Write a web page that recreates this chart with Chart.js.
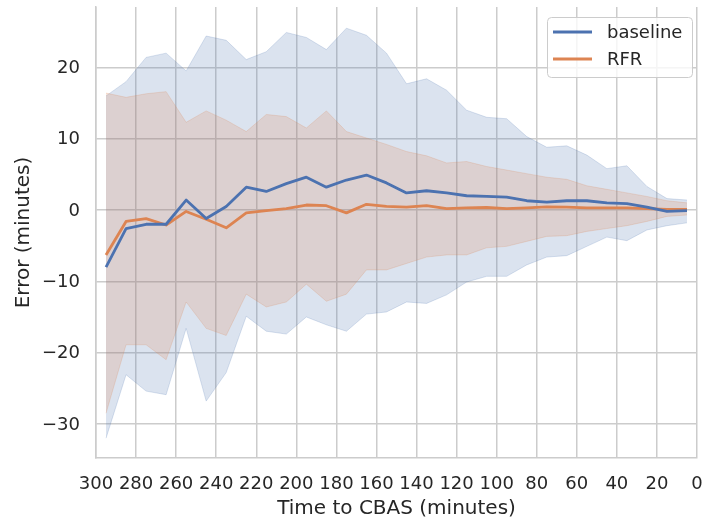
<!DOCTYPE html>
<html>
<head>
<meta charset="utf-8">
<script src="https://cdn.jsdelivr.net/npm/chart.js@4/dist/chart.umd.min.js"></script>
<style>
  html, body { margin: 0; padding: 0; background: #ffffff; }
  #chart { display: block; }
</style>
</head>
<body>
<canvas id="chart" width="705" height="520"></canvas>
<script>
// Minutes before CBAS at which each error sample was aggregated
const times = [295, 285, 275, 265, 255, 245, 235, 225, 215, 205,
               195, 185, 175, 165, 155, 145, 135, 125, 115, 105,
               95, 85, 75, 65, 55, 45, 35, 25, 15, 5];

// Baseline model: mean error and the spread band around it
const baselineMean = [-8.0, -2.6, -2.0, -2.0, 1.4, -1.2, 0.5, 3.2, 2.6, 3.7,
                      4.6, 3.2, 4.2, 4.9, 3.8, 2.4, 2.7, 2.4, 2.0, 1.9,
                      1.8, 1.3, 1.1, 1.3, 1.3, 1.0, 0.9, 0.4, -0.2, -0.1];
const baselineUpper = [16.0, 18.0, 21.4, 22.0, 19.5, 24.4, 23.8, 21.1, 22.2, 24.9,
                       24.2, 22.5, 25.5, 24.5, 22.0, 17.7, 18.4, 16.8, 14.0, 13.0,
                       12.8, 10.3, 8.8, 9.0, 7.7, 5.8, 6.2, 3.3, 1.6, 1.4];
const baselineLower = [-32.0, -23.1, -25.4, -25.9, -16.6, -26.8, -22.8, -14.9, -17.0, -17.4,
                       -15.0, -16.1, -17.0, -14.6, -14.3, -12.9, -13.1, -11.9, -10.1, -9.3,
                       -9.3, -7.7, -6.6, -6.4, -5.1, -3.8, -4.3, -2.8, -2.2, -1.8];

// Random forest regressor: mean error and spread band
const rfrMean = [-6.3, -1.6, -1.2, -2.1, -0.2, -1.3, -2.5, -0.4, -0.1, 0.2,
                 0.7, 0.6, -0.4, 0.8, 0.5, 0.4, 0.6, 0.2, 0.3, 0.35,
                 0.2, 0.3, 0.45, 0.4, 0.3, 0.3, 0.3, 0.2, 0.1, 0.1];
const rfrUpper = [16.4, 15.8, 16.3, 16.6, 12.3, 13.9, 12.6, 11.0, 13.4, 13.1,
                  11.5, 13.9, 11.0, 10.1, 9.2, 8.2, 7.6, 6.6, 6.8, 6.1,
                  5.6, 5.1, 4.6, 4.3, 3.4, 2.9, 2.4, 1.9, 1.3, 1.0];
const rfrLower = [-28.5, -18.9, -18.9, -21.0, -12.9, -16.6, -17.6, -11.8, -13.6, -12.9,
                  -10.4, -12.8, -11.8, -8.4, -8.4, -7.5, -6.6, -6.3, -6.3, -5.3,
                  -5.1, -4.4, -3.7, -3.6, -3.0, -2.6, -2.2, -1.6, -0.9, -0.7];

// Axis tick values
const xTicks = [300, 280, 260, 240, 220, 200, 180, 160, 140, 120, 100, 80, 60, 40, 20, 0];
const yTicks = [-30, -20, -10, 0, 10, 20];

const BLUE = '#4c72b0';
const ORANGE = '#dd8452';
const BLUE_BAND = 'rgba(76, 114, 176, 0.2)';
const ORANGE_BAND = 'rgba(221, 132, 82, 0.2)';
const TEXT = '#262626';
const GRID = '#cccccc';
const FONT = 'DejaVu Sans';

const pts = arr => arr.map((v, i) => ({ x: times[i], y: v }));

// Legend drawn as a framed box in the upper right of the plot area
const boxedLegend = {
  id: 'boxedLegend',
  afterDraw(chart) {
    const { ctx, chartArea } = chart;
    const items = chart.data.datasets.filter(d => d.inLegend);
    const w = 145, h = 60;
    const x0 = chartArea.right - 5 - w;
    const y0 = chartArea.top + 10;
    ctx.save();
    ctx.beginPath();
    ctx.roundRect(x0 + 0.5, y0 + 0.5, w, h, 4);
    ctx.fillStyle = 'rgba(255,255,255,0.8)';
    ctx.fill();
    ctx.strokeStyle = GRID;
    ctx.lineWidth = 1;
    ctx.stroke();
    ctx.font = '18px "' + FONT + '"';
    ctx.textBaseline = 'middle';
    ctx.textAlign = 'left';
    items.forEach((d, i) => {
      const y = y0 + 15 + i * 27;
      ctx.beginPath();
      ctx.moveTo(x0 + 6, y);
      ctx.lineTo(x0 + 45, y);
      ctx.strokeStyle = d.borderColor;
      ctx.lineWidth = d.borderWidth;
      ctx.stroke();
      ctx.fillStyle = TEXT;
      ctx.fillText(d.label, x0 + 60, y + 1);
    });
    ctx.restore();
  }
};

new Chart(document.getElementById('chart'), {
  type: 'line',
  data: {
    datasets: [
      { label: 'baseline', inLegend: true, data: pts(baselineMean), borderColor: BLUE, borderWidth: 2.8,
        fill: false, order: 0 },
      { label: 'RFR', inLegend: true, data: pts(rfrMean), borderColor: ORANGE, borderWidth: 2.8,
        fill: false, order: 0 },
      { label: 'RFR upper', data: pts(rfrUpper), borderColor: ORANGE_BAND, borderWidth: 1,
        backgroundColor: ORANGE_BAND, fill: '+1', order: 1 },
      { label: 'RFR lower', data: pts(rfrLower), borderColor: ORANGE_BAND, borderWidth: 1,
        fill: false, order: 1 },
      { label: 'baseline upper', data: pts(baselineUpper), borderColor: BLUE_BAND, borderWidth: 1,
        backgroundColor: BLUE_BAND, fill: '+1', order: 2 },
      { label: 'baseline lower', data: pts(baselineLower), borderColor: BLUE_BAND, borderWidth: 1,
        fill: false, order: 2 }
    ]
  },
  options: {
    responsive: false,
    animation: false,
    events: [],
    layout: { padding: { top: 7, right: 8, left: 0, bottom: 0 } },
    elements: {
      point: { radius: 0 },
      line: { tension: 0, borderJoinStyle: 'round', borderCapStyle: 'butt' }
    },
    plugins: {
      legend: { display: false },
      tooltip: { enabled: false },
      filler: { propagate: false }
    },
    scales: {
      x: {
        type: 'linear',
        reverse: true,
        min: 0,
        max: 300,
        afterBuildTicks: s => { s.ticks = xTicks.map(v => ({ value: v })); },
        afterFit: s => {
          s.height = 62;
          s.paddingLeft = 0;
          s.paddingRight = 0;
        },
        ticks: {
          color: TEXT, font: { family: FONT, size: 18 }, padding: 16,
          maxRotation: 0, autoSkip: false
        },
        grid: { color: GRID, lineWidth: 1.5, drawTicks: false },
        border: { display: true, color: GRID, width: 1.5 },
        title: {
          display: true, text: 'Time to CBAS (minutes)', color: TEXT,
          font: { family: FONT, size: 20 }, padding: { top: 0, bottom: -1 }
        }
      },
      y: {
        type: 'linear',
        min: -34.78,
        max: 28.47,
        afterBuildTicks: s => { s.ticks = yTicks.map(v => ({ value: v })); },
        afterFit: s => {
          s.width = 96;
          s.paddingTop = 0;
          s.paddingBottom = 0;
        },
        ticks: {
          color: TEXT, font: { family: FONT, size: 18 }, padding: 16, labelOffset: 1,
          callback: v => (v < 0 ? '\u2212' + Math.abs(v) : String(v))
        },
        grid: { color: GRID, lineWidth: 1.5, drawTicks: false },
        border: { display: true, color: GRID, width: 1.5 },
        title: {
          display: true, text: 'Error (minutes)', color: TEXT,
          font: { family: FONT, size: 20 }, padding: { top: 12, bottom: 0 }
        }
      }
    }
  },
  plugins: [boxedLegend]
});
</script>
</body>
</html>
